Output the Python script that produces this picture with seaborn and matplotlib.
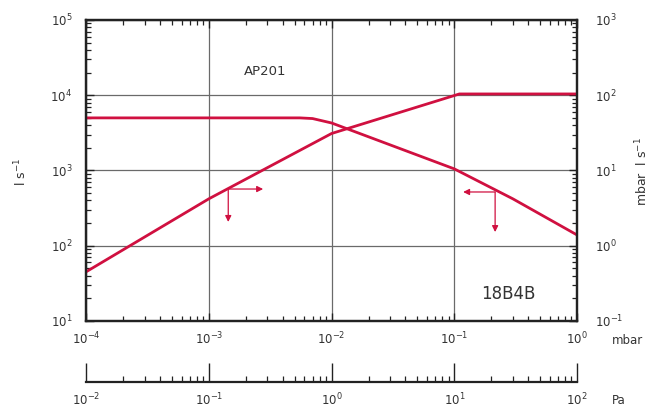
import numpy as np
import pandas as pd
import matplotlib
matplotlib.use("Agg")
import matplotlib.pyplot as plt
import seaborn as sns

# ---- data ----
speed_p = [1e-4, 1e-3, 5.5e-3, 7e-3, 1e-2, 1e-1, 3e-1, 1e0]          # mbar
speed_v = [5000, 5000, 5000, 4900, 4280, 1050, 420, 139]              # l s^-1 (left axis)

thr_p = [1e-4, 1e-3, 1e-2, 1.1e-1, 1e0]                             # mbar
thr_v = [0.45, 4.2, 31, 104, 104]                                     # mbar l s^-1 (right axis)

x_ticks_mbar = [1e-4, 1e-3, 1e-2, 1e-1, 1e0]
x_ticks_pa = [1e-2, 1e-1, 1e0, 1e1, 1e2]
left_ticks = [1e1, 1e2, 1e3, 1e4, 1e5]
right_ticks = [1e-1, 1e0, 1e1, 1e2, 1e3]

# arrow annotations (data coordinates)
arrow1 = dict(start=(1.44e-3, 567), right_end=(2.77e-3, 567), down_end=(1.44e-3, 207))
arrow2 = dict(start=(0.215, 518), left_end=(0.118, 518), down_end=(0.215, 152))

RED = "#d01040"
GRID = "#6a6a6a"
TXT = "#333333"

sns.set_theme(style="white")
plt.rcParams["font.family"] = ["DejaVu Sans"]

fig = plt.figure(figsize=(6.62, 4.12), dpi=100)
ax = fig.add_axes([0.130, 0.2209, 0.7417, 0.7306])

df_s = pd.DataFrame({"p": speed_p, "v": speed_v})
df_t = pd.DataFrame({"p": thr_p, "v": thr_v})

sns.lineplot(data=df_s, x="p", y="v", ax=ax, color=RED, lw=2.0, sort=False)
ax.set_xscale("log")
ax.set_yscale("log")
ax.set_xlim(1e-4, 1e0)
ax.set_ylim(1e1, 1e5)
ax.set_xticks(x_ticks_mbar)
ax.set_yticks(left_ticks)
ax.grid(True, which="major", color=GRID, lw=0.9)
ax.set_xlabel("")
ax.set_ylabel("")

ax2 = ax.twinx()
sns.lineplot(data=df_t, x="p", y="v", ax=ax2, color=RED, lw=2.0, sort=False)
ax2.set_yscale("log")
ax2.set_ylim(1e-1, 1e3)
ax2.set_yticks(right_ticks)
ax2.set_xlim(1e-4, 1e0)
ax2.set_ylabel("")
ax2.grid(False)

for a in (ax, ax2):
    for s in a.spines.values():
        s.set_color("#222222")
        s.set_linewidth(1.6)

ax.tick_params(axis="both", which="both", direction="in", top=True, bottom=True,
               left=True, right=False, colors="#222222", labelcolor=TXT, labelsize=8.5)
ax.tick_params(axis="both", which="major", length=6, width=1.0)
ax.tick_params(axis="both", which="minor", length=3.5, width=0.9)
ax.tick_params(axis="y", pad=10)
ax.tick_params(axis="x", pad=7)
ax2.tick_params(axis="y", which="both", direction="in", right=True, colors="#222222",
                labelcolor=TXT, labelsize=8.5, pad=13)
ax2.tick_params(axis="y", which="major", length=6, width=1.0)
ax2.tick_params(axis="y", which="minor", length=3.5, width=0.9)

# arrows
akw = dict(arrowstyle="-|>", color=RED, lw=0.9, mutation_scale=9, shrinkA=0, shrinkB=0)
ax.annotate("", xy=arrow1["right_end"], xytext=arrow1["start"], arrowprops=akw)
ax.annotate("", xy=arrow1["down_end"], xytext=arrow1["start"], arrowprops=akw)
ax.annotate("", xy=arrow2["left_end"], xytext=arrow2["start"], arrowprops=akw)
ax.annotate("", xy=arrow2["down_end"], xytext=arrow2["start"], arrowprops=akw)

ax.text(2.87e-3, 2.04e4, "AP201", fontsize=9.5, color=TXT, ha="center", va="center")
ax.text(0.274, 22.9, "18B4B", fontsize=12, color=TXT, ha="center", va="center")

# Pa axis
axp = fig.add_axes([0.130, 0.0728, 0.7417, 0.05])
axp.set_xscale("log")
axp.set_xlim(1e-2, 1e2)
axp.set_xticks(x_ticks_pa)
axp.set_yticks([])
axp.patch.set_alpha(0)
for k in ("top", "left", "right"):
    axp.spines[k].set_visible(False)
axp.spines["bottom"].set_color("#222222")
axp.spines["bottom"].set_linewidth(1.6)
axp.tick_params(axis="x", which="both", direction="in", bottom=True, colors="#222222",
                labelcolor=TXT, labelsize=8.5, pad=7)
axp.tick_params(axis="x", which="major", length=14, width=1.0)
axp.tick_params(axis="x", which="minor", length=4, width=0.9)
axp.grid(False)

fig.text(612 / 662, 1 - 340 / 412, "mbar", fontsize=8.5, color=TXT, ha="left", va="center")
fig.text(612 / 662, 1 - 401 / 412, "Pa", fontsize=8.5, color=TXT, ha="left", va="center")
fig.text(21 / 662, 1 - 172 / 412, "l s$^{-1}$", fontsize=9, color=TXT, rotation=90,
         ha="center", va="center")
fig.text(642 / 662, 1 - 171 / 412, "mbar  l s$^{-1}$", fontsize=9, color=TXT, rotation=90,
         ha="center", va="center")

fig.savefig("out.png", dpi=100)
